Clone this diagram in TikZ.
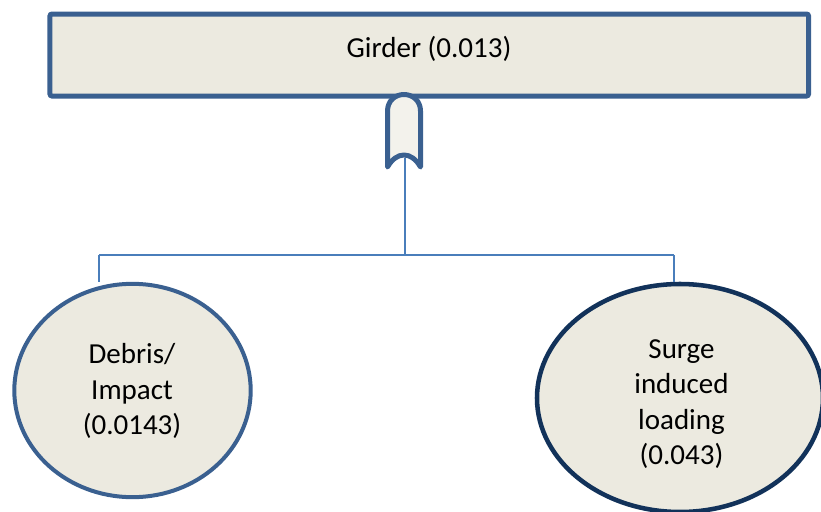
\documentclass[tikz,border=0pt]{standalone}
\usepackage{fontspec}
\setmainfont{Carlito}
\usetikzlibrary{shapes.geometric}
\definecolor{boxfill}{HTML}{ECEAE0}
\definecolor{gatefill}{HTML}{F3F2EC}
\definecolor{edgeblue}{HTML}{3A6090}
\definecolor{navy}{HTML}{12325A}
\definecolor{wireblue}{HTML}{4A7EBB}
\tikzset{
  topbox/.style={draw=edgeblue, fill=boxfill, line width=3.75pt, rounded corners=1.5pt,
    rectangle, minimum width=568.9pt, minimum height=61.5pt, inner sep=0pt},
  event/.style={ellipse, fill=boxfill, inner sep=0pt},
  label text/.style={font=\fontsize{21.75}{26.5}\selectfont, align=center, inner sep=0pt},
  wire/.style={draw=wireblue, line width=1.25pt},
  gate/.style={draw=edgeblue, fill=gatefill, line width=3.75pt, line join=round}
}
\begin{document}
\begin{tikzpicture}[x=0.75pt, y=-0.75pt]
  \useasboundingbox (0,0) rectangle (821,511);
  \clip (0,0) rectangle (821,511);

  % top event
  \node[topbox] (girder) at (429.25,55) {};
  \node[label text, anchor=base] (girdertxt) at (429,57) {Girder (0.013)};

  % basic events
  \node[event, draw=edgeblue, line width=3pt, minimum width=177.3pt, minimum height=160pt]
    (debris) at (132.5,390.5) {};
  \node[label text] (debristxt) at (132,391) {Debris/\\Impact\\(0.0143)};

  \node[event, draw=navy, line width=3.4pt, minimum width=214.5pt, minimum height=171pt]
    (surge) at (680,398) {};
  \node[label text] (surgetxt) at (681.5,404) {Surge\\induced\\loading\\(0.043)};

  % connectors
  \coordinate (gateout) at (405,158);
  \coordinate (bus) at (405,255);
  \coordinate (lt) at (99,255);
  \coordinate (rt) at (674,255);
  \draw[wire] (gateout) -- (bus);
  \draw[wire] (lt) -- (rt);
  \draw[wire] (lt) -- (lt |- debris.north);
  \draw[wire] (rt) -- (rt |- surge.north);

  % gate symbol below the top event
  \path[gate] (387.5,167) -- (387.5,111)
    .. controls (387.5,101) and (395,94.5) .. (404,94.5)
    .. controls (413,94.5) and (420.5,101) .. (420.5,111)
    -- (420.5,167)
    .. controls (416,159) and (410,155) .. (404,155)
    .. controls (398,155) and (392,159) .. cycle;
\end{tikzpicture}
\end{document}
